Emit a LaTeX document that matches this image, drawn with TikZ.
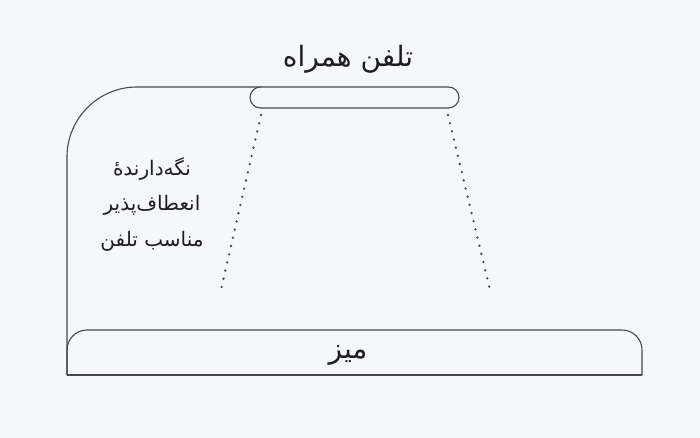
\documentclass[tikz,border=0pt]{standalone}
\usepackage{fontspec}
\newfontfamily\arabicfont[Script=Arabic]{DejaVu Sans}
\TeXXeTstate=1
\usetikzlibrary{positioning}
\definecolor{softgray}{RGB}{246,247,249}
\definecolor{linegray}{RGB}{72,72,74}
\definecolor{inkgray}{RGB}{30,30,32}

\begin{document}
\begin{tikzpicture}[x=1pt,y=-1pt,line width=1.1pt,
  every node/.style={text=inkgray,inner sep=0pt,align=center},
  dotline/.style={draw=linegray,line width=2.6pt,line cap=round,dash pattern=on 0pt off 8.4pt}]
\fill[softgray] (0,0) rectangle (700,438);
\useasboundingbox (0,0) rectangle (700,438);
% holder and table
\draw[linegray,rounded corners=70pt] (67,375) -- (67,87) -- (262,87);
\draw[linegray,rounded corners=20pt] (67,375) -- (67,330) -- (642,330) -- (642,375);
\draw[linegray] (67,375) -- (642,375);
\node[draw=linegray,fill=softgray,rounded corners=10.5pt,minimum width=209pt,minimum height=21pt] (phone) at (354.5,97.5) {};
% labels
\node[font=\arabicfont\fontsize{28}{32}\selectfont] (title) at (348,59) {\beginR تلفن همراه\endR};
\node[font=\arabicfont\fontsize{20}{35.5}\selectfont] (holder) at (152,204) {\beginR نگه‌دارندهٔ\endR\\\beginR انعطاف‌پذیر\endR\\\beginR مناسب تلفن\endR};
\node[font=\arabicfont\fontsize{28}{32}\selectfont] (table) at (348,355) {\beginR میز\endR};
% viewing lines
\coordinate (ltop) at (261,115); \coordinate (lbot) at (220,294);
\coordinate (rtop) at (448,115); \coordinate (rbot) at (491,294);
\draw[dotline] (ltop) -- (lbot); \draw[dotline] (rtop) -- (rbot);
\end{tikzpicture}
\end{document}
